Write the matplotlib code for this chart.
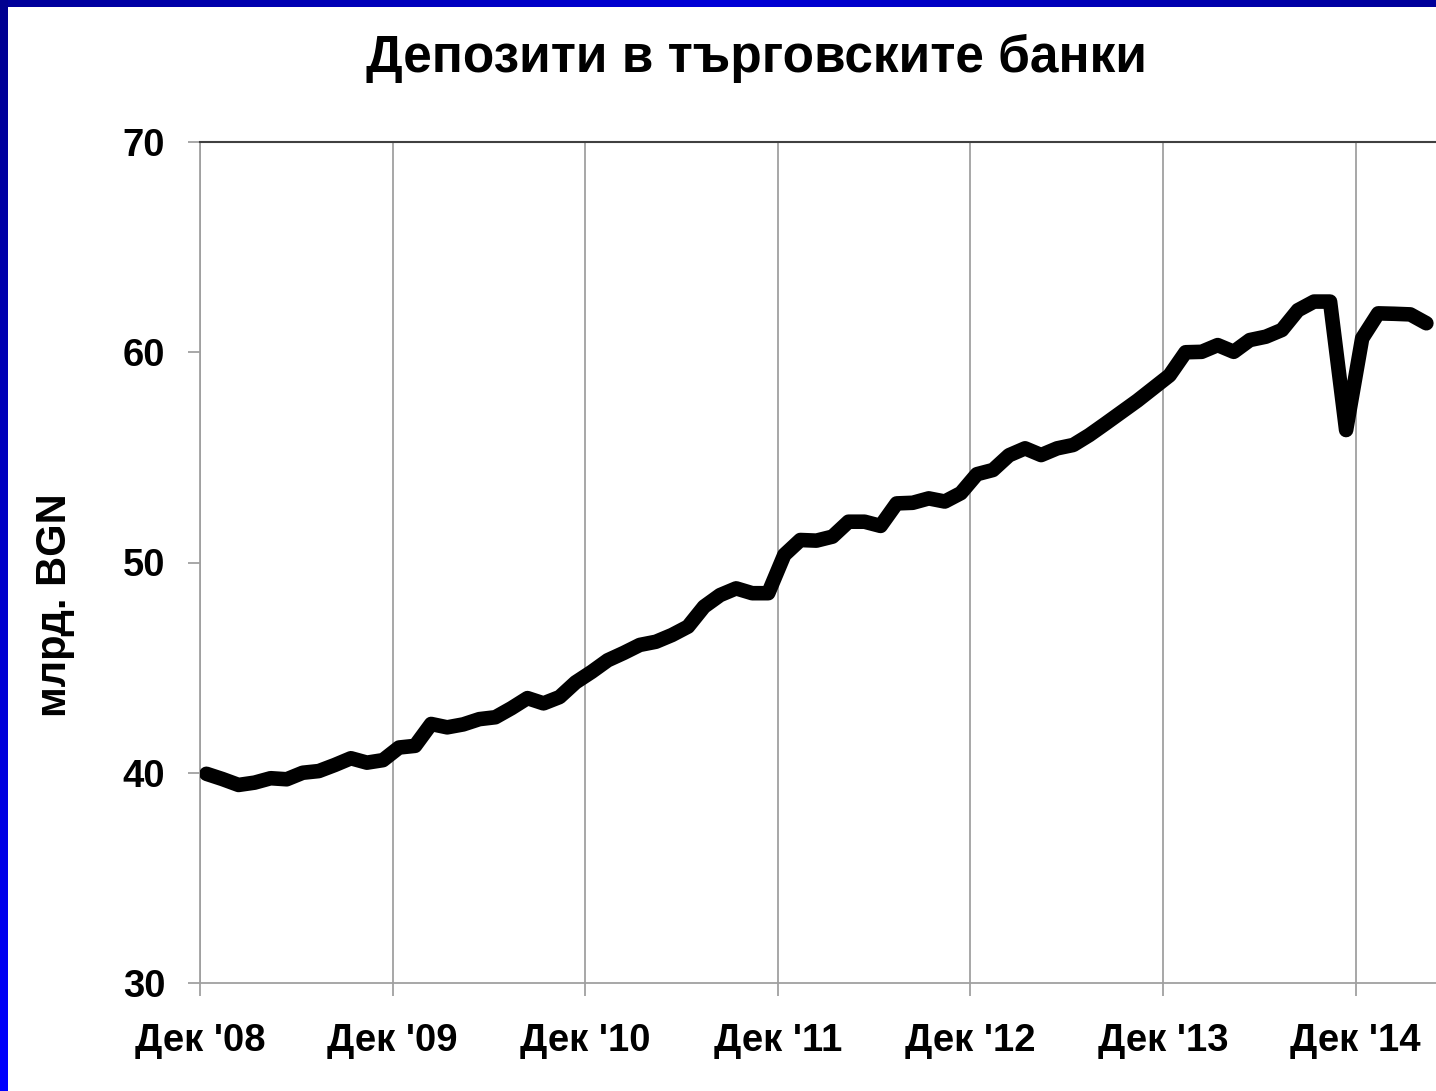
import numpy as np
from matplotlib import pyplot as plt

# deposits in commercial banks, bn BGN, monthly from Dec 2008
deposits = [
    39.95, 39.7, 39.42, 39.53, 39.74, 39.69, 40.0, 40.08, 40.37, 40.69,
    40.48, 40.6, 41.2, 41.28, 42.32, 42.16, 42.3, 42.55, 42.64, 43.07,
    43.55, 43.3, 43.6, 44.3, 44.8, 45.35, 45.7, 46.08, 46.23, 46.55,
    46.95, 47.9, 48.45, 48.77, 48.54, 48.54, 50.36, 51.07, 51.04, 51.23,
    51.94, 51.94, 51.74, 52.81, 52.84, 53.05, 52.9, 53.3, 54.2, 54.4,
    55.1, 55.43, 55.11, 55.43, 55.59, 56.06, 56.6, 57.15, 57.7, 58.3,
    58.9, 60.0, 60.02, 60.34, 60.02, 60.58, 60.74, 61.06, 62.0, 62.41,
    62.41, 56.3, 60.66, 61.85, 61.83, 61.8, 61.38,
]
tick_labels = ["Дек '08", "Дек '09", "Дек '10", "Дек '11", "Дек '12", "Дек '13", "Дек '14"]
y_ticks = [30, 40, 50, 60, 70]

plt.rcParams['font.family'] = ['Liberation Sans', 'DejaVu Sans']
plt.rcParams['font.weight'] = 'bold'

fig = plt.figure(figsize=(14.36, 10.91), dpi=100)
fig.patch.set_facecolor('white')

# blue frame strips (top and left)
top = fig.add_axes([0, 1 - 7 / 1091, 1, 7 / 1091])
top.imshow(np.linspace(0, 1, 256).reshape(1, -1), aspect='auto',
           cmap=plt.matplotlib.colors.LinearSegmentedColormap.from_list('t', ['#00009a', '#0000d8', '#00009a']))
top.axis('off')
left = fig.add_axes([0, 0, 8 / 1436, 1])
left.imshow(np.linspace(0, 1, 256).reshape(-1, 1), aspect='auto',
            cmap=plt.matplotlib.colors.LinearSegmentedColormap.from_list('l', ['#000090', '#0000ff']))
left.axis('off')

ax = fig.add_axes([200 / 1436, 1 - 983 / 1091, 1 - 200 / 1436, (983 - 142) / 1091])
x = np.arange(len(deposits)) + 0.4
ax.plot(x, deposits, color='black', linewidth=10.5, solid_joinstyle='round', solid_capstyle='round', zorder=3)

ax.set_xlim(0, 77)
ax.set_ylim(30, 70)
ax.set_yticks(y_ticks)
ax.set_xticks(np.arange(len(tick_labels)) * 12)
ax.set_xticklabels(tick_labels)
ax.grid(axis='x', color='#a0a0a0', linewidth=1.3)
ax.tick_params(axis='both', labelsize=27.5, colors='#a0a0a0', labelcolor='black', length=9, width=1.3)
ax.tick_params(axis='x', pad=20)
ax.tick_params(axis='y', pad=16)
for lab in ax.get_xticklabels() + ax.get_yticklabels():
    lab.set_fontweight('bold')

ax.spines['right'].set_visible(False)
ax.spines['top'].set_color('#404040')
ax.spines['top'].set_linewidth(1.5)
ax.spines['left'].set_color('#a0a0a0')
ax.spines['bottom'].set_color('#a0a0a0')
ax.spines['left'].set_linewidth(1.3)
ax.spines['bottom'].set_linewidth(1.3)

fig.text(757 / 1436, 1 - 72 / 1091, 'Депозити в търговските банки', ha='center', va='baseline',
         fontsize=37, fontweight='bold')
fig.text(55 / 1436, 1 - 605 / 1091, 'млрд. BGN', ha='center', va='center', rotation=90,
         fontsize=30, fontweight='bold')

fig.savefig('out.png', dpi=100)
